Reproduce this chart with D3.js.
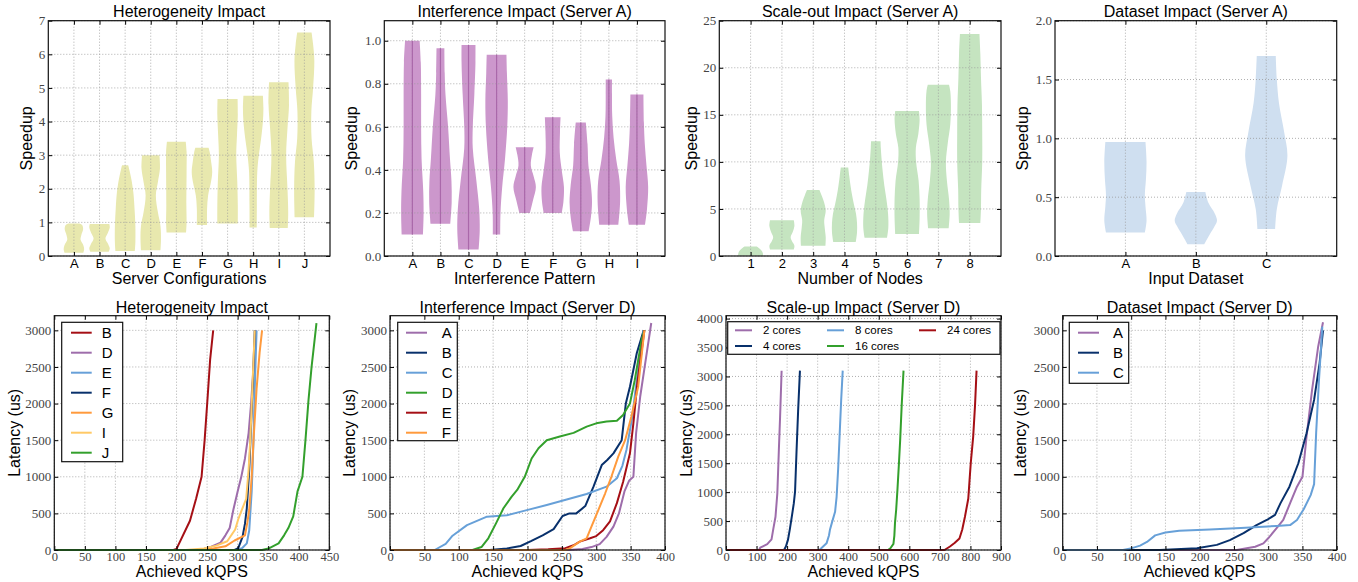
<!DOCTYPE html>
<html>
<head>
<meta charset="utf-8">
<script src="https://cdn.jsdelivr.net/npm/d3@7"></script>
<style>
  body { margin: 0; background: #fff; }
</style>
</head>
<body>
<svg id="chart" width="1358" height="582"></svg>
<script>
// ---------- top row: violin data, [speedup, relative width] ----------
const hetCats = ["A", "B", "C", "D", "E", "F", "G", "H", "I", "J"];
const hetViolins = [
  [[0.1,0.92],[0.2,1.0],[0.32,0.92],[0.48,0.65],[0.62,0.72],[0.8,0.9],[0.92,0.8],[0.97,0.55]],
  [[0.13,0.9],[0.22,1.0],[0.35,0.85],[0.52,0.58],[0.68,0.8],[0.85,1.0],[0.95,0.95]],
  [[0.15,0.95],[0.4,1.0],[0.9,1.0],[1.4,0.92],[1.9,0.8],[2.3,0.6],[2.55,0.42],[2.7,0.3]],
  [[0.17,0.95],[0.5,1.0],[0.9,0.95],[1.3,0.7],[1.8,0.5],[2.2,0.7],[2.6,0.9],[3.0,0.85]],
  [[0.7,0.95],[1.0,1.0],[1.5,0.98],[2.5,1.0],[3.1,1.0],[3.4,0.92]],
  [[0.92,0.5],[1.4,0.5],[1.8,0.6],[2.2,0.88],[2.5,1.0],[2.8,0.9],[3.1,0.75],[3.22,0.65]],
  [[0.97,1.0],[1.5,1.0],[2.2,0.95],[3.0,0.85],[3.6,0.92],[4.2,1.0],[4.67,0.98]],
  [[0.85,0.35],[1.5,0.36],[2.5,0.4],[3.0,0.55],[3.5,0.78],[4.0,0.95],[4.4,1.0],[4.77,0.95]],
  [[0.83,0.88],[1.3,0.92],[2.0,0.85],[3.0,0.72],[3.8,0.85],[4.5,1.0],[5.17,0.95]],
  [[1.15,0.95],[2.0,1.0],[2.8,0.92],[3.5,0.7],[4.3,0.68],[5.0,0.85],[5.8,0.97],[6.3,0.85],[6.65,0.7]]
];
const intfCats = ["A", "B", "C", "D", "E", "F", "G", "H", "I"];
const intfViolins = [
  [[0.1,0.95],[0.2,1.0],[0.3,0.97],[0.45,0.82],[0.6,0.78],[0.75,0.78],[0.9,0.75],[1.0,0.65]],
  [[0.15,0.88],[0.25,1.0],[0.35,0.98],[0.45,0.85],[0.6,0.68],[0.75,0.45],[0.85,0.38],[0.965,0.35]],
  [[0.03,0.9],[0.12,1.0],[0.22,0.95],[0.35,0.7],[0.5,0.38],[0.6,0.38],[0.75,0.52],[0.9,0.62],[0.98,0.62]],
  [[0.1,0.33],[0.2,0.35],[0.32,0.5],[0.45,0.75],[0.6,0.95],[0.72,1.0],[0.85,0.92],[0.935,0.88]],
  [[0.2,0.47],[0.26,0.75],[0.32,1.0],[0.37,0.8],[0.42,0.55],[0.47,0.65],[0.505,0.8]],
  [[0.2,0.8],[0.25,0.95],[0.32,1.0],[0.4,0.8],[0.48,0.63],[0.58,0.65],[0.645,0.7]],
  [[0.115,0.7],[0.18,0.9],[0.25,1.0],[0.33,0.9],[0.42,0.68],[0.52,0.6],[0.62,0.45]],
  [[0.145,0.85],[0.25,1.0],[0.35,0.95],[0.45,0.65],[0.55,0.42],[0.65,0.3],[0.75,0.28],[0.82,0.28]],
  [[0.145,0.72],[0.22,0.9],[0.32,1.0],[0.42,0.85],[0.52,0.7],[0.62,0.62],[0.75,0.58]]
];
const nodeCats = ["1", "2", "3", "4", "5", "6", "7", "8"];
const nodeViolins = [
  [[0.02,1.0],[0.3,0.98],[0.6,0.85],[0.85,0.65],[1.0,0.5]],
  [[0.7,0.95],[1.1,1.0],[1.6,0.8],[2.0,0.7],[2.6,0.88],[3.2,1.0],[3.8,0.95]],
  [[1.1,0.98],[2.0,1.0],[3.0,0.92],[3.8,0.88],[4.8,1.0],[5.8,0.85],[6.5,0.65],[7.0,0.5]],
  [[1.5,0.9],[2.5,1.0],[3.5,1.0],[4.5,0.92],[5.5,0.75],[6.5,0.6],[7.5,0.48],[8.5,0.38],[9.4,0.3]],
  [[1.95,0.9],[3.0,1.0],[4.5,0.98],[6.0,0.85],[7.5,0.68],[9.0,0.55],[10.5,0.45],[11.5,0.4],[12.2,0.38]],
  [[2.35,0.95],[4.0,1.0],[6.0,1.0],[8.0,0.92],[10.0,0.72],[11.5,0.7],[13.0,0.9],[14.5,1.0],[15.4,0.95]],
  [[2.95,0.82],[4.5,0.9],[6.0,0.85],[8.0,0.68],[10.0,0.6],[12.0,0.75],[14.0,0.95],[16.0,1.0],[17.5,0.95],[18.2,0.85]],
  [[3.5,0.85],[5.0,0.9],[7.0,0.92],[10.0,1.0],[13.0,1.0],[16.0,0.98],[19.0,0.9],[21.5,0.85],[23.6,0.78]]
];
const dataCats = ["A", "B", "C"];
const dataViolins = [
  [[0.2,0.92],[0.3,1.0],[0.42,0.95],[0.52,0.92],[0.65,0.97],[0.8,1.0],[0.97,0.95]],
  [[0.1,0.4],[0.18,0.65],[0.25,0.88],[0.3,1.0],[0.36,0.9],[0.45,0.6],[0.545,0.45]],
  [[0.23,0.42],[0.4,0.5],[0.6,0.75],[0.85,1.0],[1.05,0.85],[1.3,0.6],[1.5,0.5],[1.7,0.45]]
];

// ---------- bottom row: [kQPS, latency us] ----------
const hetLabels = ["B", "D", "E", "F", "G", "I", "J"];
const hetB = [[0,0],[195,0],[200,15],[222,400],[232,700],[241,1000],[246,1500],[251,2100],[255,2600],[260,3000]];
const hetD = [[0,0],[240,0],[255,40],[272,100],[280,200],[287,300],[293,550],[300,800],[306,1000],[312,1250],[318,1600],[322,2000],[326,2500],[330,3000]];
const hetE = [[0,0],[300,0],[308,30],[315,90],[319,270],[323,800],[326,1500],[328,2200],[331,3000]];
const hetF = [[0,0],[295,0],[301,25],[308,180],[312,360],[315,570],[319,1100],[322,1700],[325,2300],[328,3000]];
const hetG = [[0,0],[230,0],[260,20],[280,50],[295,130],[312,200],[316,380],[319,550],[323,1000],[326,1500],[331,2200],[336,2700],[340,3000]];
const hetI = [[0,0],[215,0],[245,20],[265,60],[283,120],[296,280],[301,420],[307,550],[314,700],[318,1100],[321,1550],[324,2200],[328,3000]];
const hetJ = [[0,0],[340,0],[352,25],[367,90],[376,200],[383,300],[391,460],[398,800],[406,1000],[411,1500],[416,2050],[421,2500],[429,3100]];

const intfLabels = ["A", "B", "C", "D", "E", "F"];
const intfA = [[0,0],[260,0],[280,15],[293,40],[305,80],[315,180],[325,320],[333,500],[341,800],[348,950],[354,1000],[358,1600],[364,2100],[372,2600],[380,3100]];
const intfB = [[0,0],[145,0],[170,20],[190,55],[205,120],[222,200],[238,285],[251,465],[261,500],[271,500],[284,600],[296,865],[308,1160],[316,1230],[325,1320],[337,1500],[343,2000],[349,2230],[359,2690],[369,3000]];
const intfC = [[0,0],[65,0],[81,85],[91,195],[112,340],[141,455],[170,475],[199,545],[228,615],[257,690],[286,765],[315,865],[330,980],[338,1150],[344,1370],[352,1800],[360,2400],[369,3000]];
const intfD = [[0,0],[120,0],[133,40],[143,160],[154,360],[165,570],[177,730],[185,820],[196,1000],[206,1250],[216,1390],[228,1500],[247,1550],[267,1600],[286,1685],[300,1730],[315,1755],[330,1765],[339,1845],[349,2000],[356,2320],[366,2870],[370,3000]];
const intfE = [[0,0],[200,0],[230,10],[255,25],[267,65],[276,115],[291,160],[300,190],[310,270],[320,390],[330,640],[339,930],[349,1320],[354,1730],[360,2300],[370,3000]];
const intfF = [[0,0],[255,0],[262,25],[276,115],[286,160],[293,320],[303,545],[313,775],[322,1000],[332,1275],[342,1500],[351,1820],[361,2230],[370,3000]];

const coreLabels = ["2 cores", "4 cores", "8 cores", "16 cores", "24 cores"];
const core2 = [[0,0],[108,0],[112,40],[135,100],[149,185],[155,370],[162,575],[168,980],[173,1730],[177,2300],[182,3100]];
const core4 = [[0,0],[190,0],[196,60],[203,180],[209,360],[216,600],[222,810],[226,1010],[231,1730],[236,2400],[242,3100]];
const core8 = [[0,0],[305,0],[310,20],[329,115],[337,250],[340,345],[346,460],[357,660],[362,920],[367,1400],[372,2000],[377,2600],[382,3100]];
const core16 = [[0,0],[530,0],[538,30],[548,105],[551,250],[553,460],[557,700],[561,1035],[566,1500],[570,1900],[575,2500],[581,3100]];
const core24 = [[0,0],[715,0],[733,60],[748,120],[764,200],[773,350],[782,575],[793,890],[797,1200],[801,1500],[809,1960],[815,2500],[820,3100]];

const dsLabels = ["A", "B", "C"];
const dsA = [[0,0],[254,0],[281,45],[293,90],[300,160],[312,295],[322,410],[332,640],[342,865],[350,1000],[356,1550],[364,2185],[373,2780],[380,3110]];
const dsB = [[0,0],[142,0],[196,25],[225,70],[244,135],[264,230],[283,340],[298,410],[310,480],[318,640],[331,865],[344,1185],[356,1595],[367,2050],[375,2550],[380,3000]];
const dsC = [[0,0],[88,0],[101,25],[113,60],[123,110],[135,200],[150,240],[170,262],[215,280],[260,300],[312,328],[332,340],[342,410],[352,560],[362,750],[367,900],[370,1600],[374,2300],[379,3050]];

const speedTicks1 = [0, 1, 2, 3, 4, 5, 6, 7];
const speedTicks2 = [0, 0.2, 0.4, 0.6, 0.8, 1.0];
const speedTicks3 = [0, 5, 10, 15, 20, 25];
const speedTicks4 = [0, 0.5, 1.0, 1.5, 2.0];
const latTicks = [0, 500, 1000, 1500, 2000, 2500, 3000];
const latTicks7 = [0, 500, 1000, 1500, 2000, 2500, 3000, 3500, 4000];

// ---------- styles ----------
const SANS = "Liberation Sans";
const SERIF = "Liberation Serif";
const C = {
  red: "#a50f15", purple: "#9e6dab", lblue: "#67a0d8", navy: "#08306b",
  orange: "#ff9a3c", lorange: "#ffc966", green: "#33a02c"
};

const svg = d3.select("#chart");

function makePanel(box, xDom, yDom) {
  const w = box.r - box.l, h = box.b - box.t;
  const g = svg.append("g").attr("transform", `translate(${box.l},${box.t})`);
  const x = d3.scaleLinear().domain(xDom).range([0, w]);
  const y = d3.scaleLinear().domain(yDom).range([h, 0]);
  return { g, x, y, w, h };
}

function grid(p, xTicks, yTicks) {
  const gg = p.g.append("g")
    .attr("stroke", "#9a9a9a").attr("stroke-width", 0.8).attr("stroke-dasharray", "1,2");
  gg.selectAll(".gx").data(xTicks).join("line").attr("class", "gx")
    .attr("x1", d => p.x(d)).attr("x2", d => p.x(d)).attr("y1", 0).attr("y2", p.h);
  gg.selectAll(".gy").data(yTicks).join("line").attr("class", "gy")
    .attr("x1", 0).attr("x2", p.w).attr("y1", d => p.y(d)).attr("y2", d => p.y(d));
}

function axes(p, o) {
  const styleAxis = (sel, font, size, color) => {
    sel.select(".domain").remove();
    sel.selectAll(".tick line").attr("stroke", "#000");
    sel.attr("font-family", font).attr("font-size", size);
    sel.selectAll(".tick text").attr("fill", color);
  };
  p.g.append("g").attr("transform", `translate(0,${p.h})`)
    .call(d3.axisBottom(p.x).tickValues(o.xTicks).tickFormat(o.xFmt)
      .tickSizeInner(-4).tickSizeOuter(0).tickPadding(o.xPad))
    .call(s => styleAxis(s, o.xFont, o.xSize, o.xColor));
  p.g.append("g")
    .call(d3.axisTop(p.x).tickValues(o.xTicks).tickFormat("").tickSizeInner(-4).tickSizeOuter(0))
    .call(s => styleAxis(s, SANS, 10, "#000"));
  p.g.append("g")
    .call(d3.axisLeft(p.y).tickValues(o.yTicks).tickFormat(o.yFmt)
      .tickSizeInner(-4).tickSizeOuter(0).tickPadding(3))
    .call(s => styleAxis(s, SERIF, 13, "#444"));
  p.g.append("g").attr("transform", `translate(${p.w},0)`)
    .call(d3.axisRight(p.y).tickValues(o.yTicks).tickFormat("").tickSizeInner(-4).tickSizeOuter(0))
    .call(s => styleAxis(s, SANS, 10, "#000"));

  p.g.append("rect").attr("width", p.w).attr("height", p.h)
    .attr("fill", "none").attr("stroke", "#111").attr("stroke-width", 1.2);

  p.g.append("text").attr("x", p.w / 2).attr("y", o.titleY)
    .attr("text-anchor", "middle").attr("font-family", SANS).attr("font-size", 16)
    .text(o.title);
  p.g.append("text").attr("x", p.w / 2).attr("y", p.h + o.xLabelY)
    .attr("text-anchor", "middle").attr("font-family", SANS).attr("font-size", 16)
    .text(o.xLabel);
  p.g.append("text")
    .attr("transform", `translate(${-o.yLabelX},${p.h / 2}) rotate(-90)`)
    .attr("text-anchor", "middle").attr("dominant-baseline", "central")
    .attr("font-family", SANS).attr("font-size", 16)
    .text(o.yLabel);
}

function violinPanel(box, cats, profiles, yMax, yTicks, yFmt, half, fill, opts) {
  const p = makePanel(box, [0, cats.length + 1], [0, yMax]);
  const pos = cats.map((c, i) => i + 1);
  profiles.forEach((prof, i) => {
    const cx = pos[i];
    const area = d3.area().curve(d3.curveCatmullRom.alpha(0.5))
      .y(d => p.y(d[0]))
      .x0(d => p.x(cx - d[1] * half))
      .x1(d => p.x(cx + d[1] * half));
    p.g.append("path").datum(prof).attr("d", area).attr("fill", fill);
  });
  grid(p, pos, yTicks);
  if (opts.bar) {
    p.g.selectAll(".vbar").data(profiles).join("line")
      .attr("x1", (d, i) => p.x(pos[i])).attr("x2", (d, i) => p.x(pos[i]))
      .attr("y1", d => p.y(d[0][0])).attr("y2", d => p.y(d[d.length - 1][0]))
      .attr("stroke", opts.bar).attr("stroke-width", 1.2);
  }
  axes(p, {
    xTicks: pos, xFmt: i => cats[i - 1], xFont: SANS, xSize: 13, xColor: "#000", xPad: 2.5,
    yTicks, yFmt, title: opts.title, titleY: -3.5, xLabel: opts.xLabel, xLabelY: 28,
    yLabel: "Speedup", yLabelX: opts.yLabelX
  });
}

function linePanel(box, xMax, xStep, yMax, yTicks, series, labels, colors, opts) {
  const p = makePanel(box, [0, xMax], [0, yMax]);
  const xTicks = d3.range(0, xMax + 1, xStep);
  grid(p, xTicks, yTicks);
  const line = d3.line().x(d => p.x(d[0])).y(d => p.y(d[1]));
  series.forEach((s, i) => {
    p.g.append("path").datum(s).attr("d", line)
      .attr("fill", "none").attr("stroke", colors[i]).attr("stroke-width", 2)
      .attr("stroke-linejoin", "round");
  });
  axes(p, {
    xTicks, xFmt: d3.format("d"), xFont: SERIF, xSize: 12.5, xColor: "#444", xPad: 2,
    yTicks, yFmt: d3.format("d"), title: opts.title, titleY: -3, xLabel: "Achieved kQPS", xLabelY: 27.5,
    yLabel: "Latency (us)", yLabelX: opts.yLabelX
  });
  // legend
  const L = opts.legend;
  const lg = p.g.append("g");
  lg.append("rect").attr("x", L.x).attr("y", L.y).attr("width", L.w).attr("height", L.h)
    .attr("fill", "#fff").attr("stroke", "#111").attr("stroke-width", 1.2);
  labels.forEach((lab, i) => {
    const col = Math.floor(i / L.rows), row = i % L.rows;
    const ox = L.x + col * L.colW, oy = L.y + L.row0 + row * L.rowH;
    lg.append("line").attr("x1", ox + L.l0).attr("x2", ox + L.l1).attr("y1", oy).attr("y2", oy)
      .attr("stroke", colors[i]).attr("stroke-width", 2);
    lg.append("text").attr("x", ox + L.tx).attr("y", oy).attr("dominant-baseline", "central")
      .attr("font-family", SANS).attr("font-size", L.fs).text(lab);
  });
}

// ---------- top row ----------
violinPanel({ l: 48.3, r: 330, t: 20.7, b: 256 }, hetCats, hetViolins, 7, speedTicks1, d3.format("d"),
  0.4, "#e8e8ae", { title: "Heterogeneity Impact", xLabel: "Server Configurations", yLabelX: 22 });
violinPanel({ l: 384.3, r: 665, t: 20.7, b: 256 }, intfCats, intfViolins, 1.093, speedTicks2, d3.format(".1f"),
  0.4, "#cc97cc", { title: "Interference Impact (Server A)", xLabel: "Interference Pattern", yLabelX: 33, bar: "#aa68aa" });
violinPanel({ l: 719.3, r: 1001, t: 20.7, b: 256 }, nodeCats, nodeViolins, 25, speedTicks3, d3.format("d"),
  0.4, "#c5e4c0", { title: "Scale-out Impact (Server A)", xLabel: "Number of Nodes", yLabelX: 28 });
violinPanel({ l: 1055, r: 1336.7, t: 20.7, b: 256 }, dataCats, dataViolins, 2, speedTicks4, d3.format(".1f"),
  0.3, "#cfdff0", { title: "Dataset Impact (Server A)", xLabel: "Input Dataset", yLabelX: 33 });

// ---------- bottom row ----------
linePanel({ l: 54.3, r: 329.3, t: 315.7, b: 550 }, 450, 50, 3200, latTicks,
  [hetB, hetD, hetE, hetF, hetG, hetI, hetJ], hetLabels,
  [C.red, C.purple, C.lblue, C.navy, C.orange, C.lorange, C.green],
  { title: "Heterogeneity Impact", yLabelX: 40,
    legend: { x: 7.4, y: 6.6, w: 61, h: 139.4, rows: 7, colW: 0, row0: 10.4, rowH: 20, l0: 9.3, l1: 30, tx: 40, fs: 15 } });

linePanel({ l: 390, r: 665, t: 315.7, b: 550 }, 400, 50, 3200, latTicks,
  [intfA, intfB, intfC, intfD, intfE, intfF], intfLabels,
  [C.purple, C.navy, C.lblue, C.green, C.red, C.orange],
  { title: "Interference Impact (Server D)", yLabelX: 41,
    legend: { x: 7.7, y: 6.6, w: 59.6, h: 118.4, rows: 6, colW: 0, row0: 10.4, rowH: 20, l0: 8.3, l1: 29.3, tx: 44, fs: 15 } });

linePanel({ l: 726, r: 1001, t: 315.7, b: 550 }, 900, 100, 4050, latTicks7,
  [core2, core4, core8, core16, core24], coreLabels,
  [C.purple, C.navy, C.lblue, C.green, C.red],
  { title: "Scale-up Impact (Server D)", yLabelX: 40,
    legend: { x: 1.7, y: 6, w: 272.3, h: 32.6, rows: 2, colW: 92, row0: 8.6, rowH: 15.7, l0: 7.3, l1: 24.3, tx: 35.3, fs: 11.5 } });

linePanel({ l: 1062.7, r: 1336.7, t: 315.7, b: 550 }, 400, 50, 3200, latTicks,
  [dsA, dsB, dsC], dsLabels,
  [C.purple, C.navy, C.lblue],
  { title: "Dataset Impact (Server D)", yLabelX: 42,
    legend: { x: 6.6, y: 6.6, w: 59.4, h: 61, rows: 3, colW: 0, row0: 10.4, rowH: 20, l0: 8.7, l1: 29.7, tx: 43.7, fs: 15 } });
</script>
</body>
</html>
